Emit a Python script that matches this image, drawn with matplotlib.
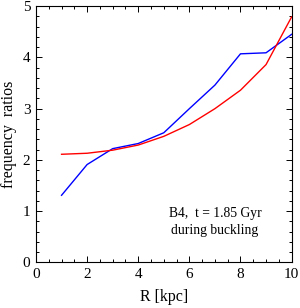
import matplotlib
matplotlib.use("Agg")
import matplotlib.pyplot as plt
from matplotlib.ticker import MultipleLocator

plt.rcParams['font.family'] = ['Liberation Serif', 'DejaVu Serif']

R = [1, 2, 3, 4, 5, 6, 7, 8, 9, 10]
blue_ratio = [1.31, 1.91, 2.22, 2.32, 2.53, 3.0, 3.46, 4.07, 4.09, 4.45]
red_ratio = [2.11, 2.13, 2.19, 2.29, 2.46, 2.69, 3.0, 3.36, 3.86, 4.79]

fig = plt.figure(figsize=(3.0, 3.08), dpi=100)
ax = fig.add_axes([0.12, 0.148, 0.852, 0.832])

ax.plot(R, blue_ratio, color='#0000ff', lw=1.0)
ax.plot(R, red_ratio, color='#ff0000', lw=1.0)

ax.set_xlim(0, 10)
ax.set_ylim(0, 5)
ax.xaxis.set_major_locator(MultipleLocator(2))
ax.xaxis.set_minor_locator(MultipleLocator(0.5))
ax.yaxis.set_major_locator(MultipleLocator(1))
ax.yaxis.set_minor_locator(MultipleLocator(0.2))
ax.tick_params(which='both', direction='in', top=True, right=True, width=0.7)
ax.tick_params(which='major', length=4, labelsize=11, pad=4)
ax.tick_params(which='minor', length=2)
for s in ax.spines.values():
    s.set_linewidth(0.8)

ax.set_xlabel('R [kpc]', fontsize=11.5, labelpad=6)
ax.set_ylabel('frequency  ratios', fontsize=11.5, labelpad=4)

ax.text(0.70, 0.158, 'B4,  t = 1.85 Gyr\nduring buckling', transform=ax.transAxes,
        ha='center', va='center', fontsize=9.8, linespacing=1.35)

fig.savefig('out.png', dpi=100)
